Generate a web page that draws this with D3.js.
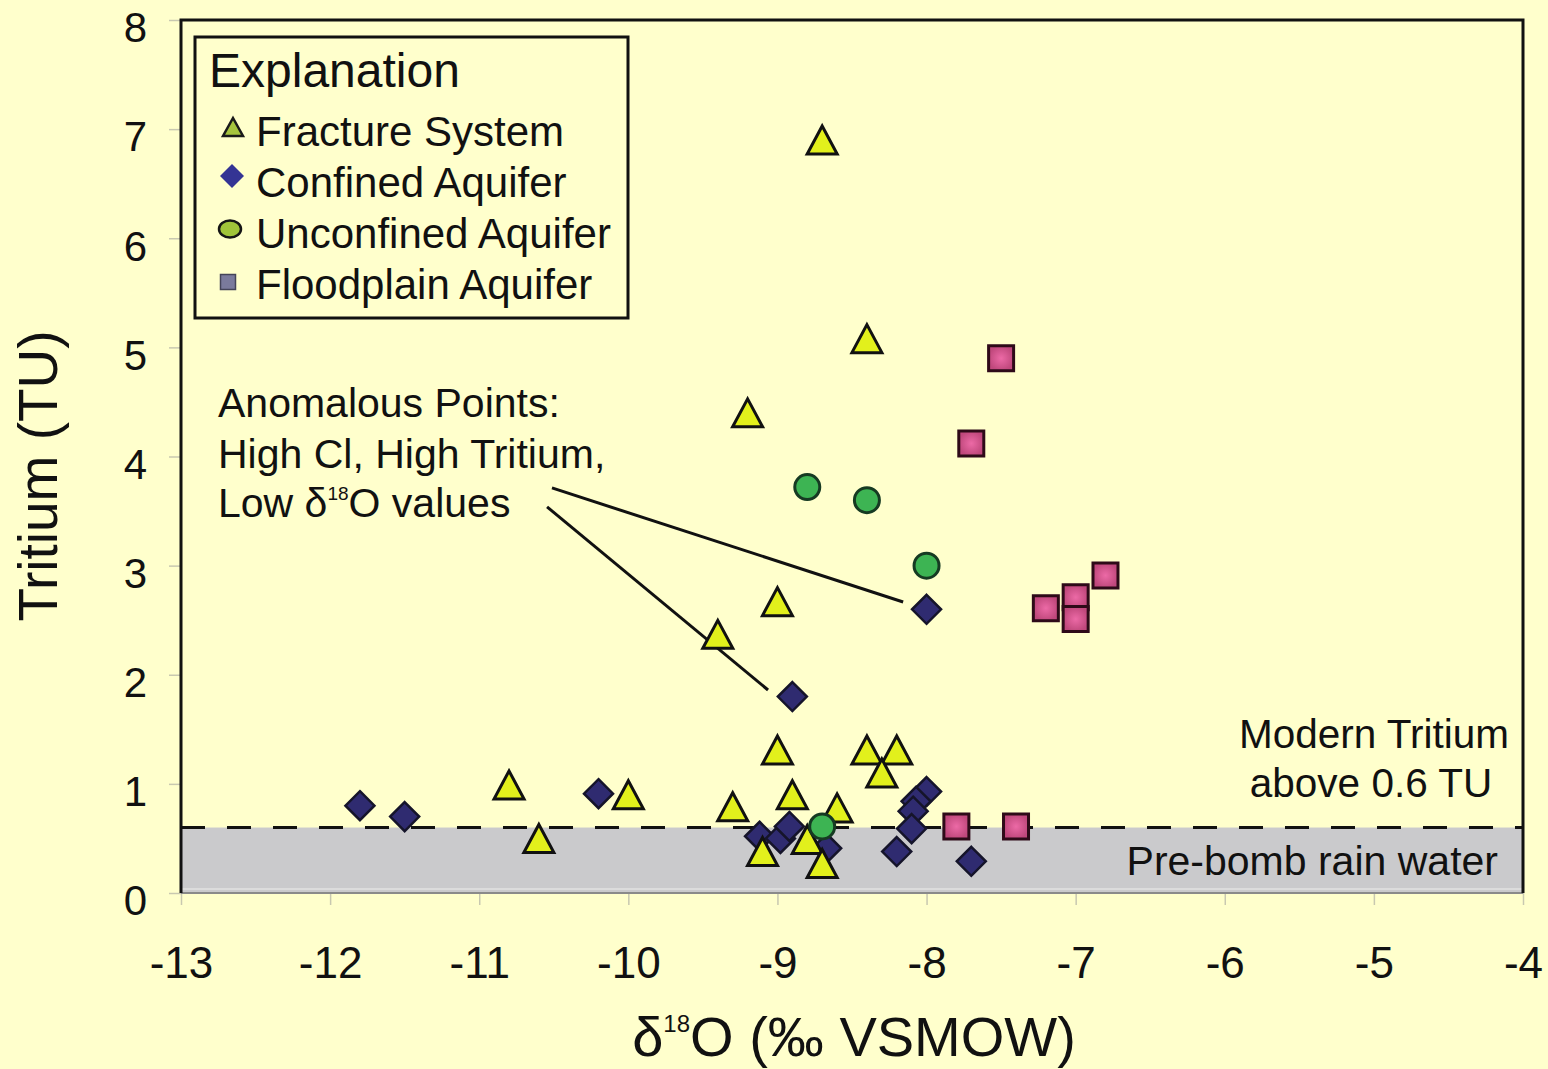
<!DOCTYPE html>
<html>
<head>
<meta charset="utf-8">
<script src="https://cdn.jsdelivr.net/npm/d3@7"></script>
<style>
  html, body { margin: 0; padding: 0; background: #ffffcc; }
  svg { display: block; }
  text { font-family: "Liberation Sans", Arial, sans-serif; fill: #111; }
</style>
</head>
<body>
<svg id="chart" width="1548" height="1069"></svg>
<script>
// δ18O (x, ‰ VSMOW) and tritium (y, TU) for each sample group
const fractureSystem = [
  [-8.7, 6.9], [-8.4, 5.08], [-9.2, 4.4], [-9.0, 2.67], [-9.4, 2.37],
  [-9.0, 1.31], [-8.4, 1.31], [-8.2, 1.31], [-8.3, 1.1], [-8.9, 0.9],
  [-9.3, 0.79], [-8.6, 0.78], [-8.8, 0.49], [-9.1, 0.38], [-8.7, 0.27],
  [-10.8, 0.99], [-10.6, 0.5], [-10.0, 0.9]
];
const confinedAquifer = [
  [-11.8, 0.8], [-11.5, 0.7], [-10.2, 0.91], [-8.0, 2.6], [-8.9, 1.8],
  [-9.12, 0.52], [-8.98, 0.5], [-8.92, 0.61], [-8.67, 0.41],
  [-8.0, 0.93], [-8.07, 0.84], [-8.09, 0.75], [-8.1, 0.59], [-8.2, 0.38], [-7.7, 0.29]
];
const unconfinedAquifer = [
  [-8.8, 3.72], [-8.4, 3.6], [-8.0, 3.0], [-8.7, 0.61]
];
const floodplainAquifer = [
  [-7.5, 4.9], [-7.7, 4.12], [-6.8, 2.91], [-7.2, 2.61],
  [-7.0, 2.71], [-7.0, 2.51], [-7.8, 0.61], [-7.4, 0.61]
];

const xTicks = [-13, -12, -11, -10, -9, -8, -7, -6, -5, -4];
const yTicks = [0, 1, 2, 3, 4, 5, 6, 7, 8];
const modernThreshold = 0.6;

const legendLabels = ["Fracture System", "Confined Aquifer", "Unconfined Aquifer", "Floodplain Aquifer"];

// leader lines from the note to the two anomalous confined-aquifer samples
const leaderLines = [
  [[-10.512, 3.712], [-8.157, 2.667]],
  [[-10.545, 3.538], [-9.063, 1.86]]
];

const svg = d3.select("#chart");
const plot = { left: 181, right: 1523, top: 20, bottom: 893 };

const x = d3.scaleLinear().domain([-13, -4]).range([plot.left, plot.right]);
const y = d3.scaleLinear().domain([0, 8]).range([plot.bottom, plot.top]);

// plain hyphen for negative tick labels
const tickText = d => String(d);

// pre-bomb band
svg.append("rect")
  .attr("x", x(-13)).attr("y", y(modernThreshold))
  .attr("width", x(-4) - x(-13)).attr("height", y(0) - y(modernThreshold))
  .attr("fill", "#cacacc");
svg.append("line")
  .attr("x1", x(-13)).attr("x2", x(-4))
  .attr("y1", y(0) - 4).attr("y2", y(0) - 4)
  .attr("stroke", "#e2e2e2").attr("stroke-width", 1.5);

// threshold line
svg.append("line")
  .attr("x1", x(-13)).attr("x2", x(-4))
  .attr("y1", y(modernThreshold)).attr("y2", y(modernThreshold))
  .attr("stroke", "#111").attr("stroke-width", 3)
  .attr("stroke-dasharray", "24,22");

// axes
const yAxis = d3.axisLeft(y).tickValues(yTicks).tickSize(12).tickPadding(22).tickFormat(tickText);
const gy = svg.append("g").attr("transform", `translate(${plot.left},0)`).call(yAxis);
gy.select(".domain").remove();
gy.selectAll(".tick line").attr("stroke", "#c8c8b0").attr("stroke-width", 1.5);
gy.selectAll(".tick text").attr("font-size", 42).attr("fill", "#111").attr("dy", "0.52em")
  .style("font-family", "'Liberation Sans', Arial, sans-serif");

const xAxis = d3.axisBottom(x).tickValues(xTicks).tickSize(12).tickPadding(42).tickFormat(tickText);
const gx = svg.append("g").attr("transform", `translate(0,${plot.bottom})`).call(xAxis);
gx.select(".domain").remove();
gx.selectAll(".tick line").attr("stroke", "#c8c8b0").attr("stroke-width", 1.5);
gx.selectAll(".tick text").attr("font-size", 44).attr("fill", "#111")
  .style("font-family", "'Liberation Sans', Arial, sans-serif");

// plot frame
svg.append("line").attr("x1", plot.left).attr("x2", plot.right).attr("y1", plot.bottom).attr("y2", plot.bottom)
  .attr("stroke", "#8a8a8a").attr("stroke-width", 2);
svg.append("path")
  .attr("d", `M${plot.left},${plot.bottom}V${plot.top}H${plot.right}V${plot.bottom}`)
  .attr("fill", "none").attr("stroke", "#111").attr("stroke-width", 3);

// axis titles
svg.append("text")
  .attr("transform", `translate(57,476) rotate(-90)`)
  .attr("text-anchor", "middle").attr("font-size", 55)
  .text("Tritium (TU)");

const xt = svg.append("text")
  .attr("x", 854).attr("y", 1056)
  .attr("text-anchor", "middle").attr("font-size", 56);
xt.append("tspan").text("δ");
xt.append("tspan").attr("font-size", 24).attr("dy", -24).text("18");
xt.append("tspan").attr("dy", 24).text("O (‰ VSMOW)");

// marker shapes, sized in pixels and centred on the data point
const shapes = {
  triangle: (w, h) => `M0,${-h / 2}L${w / 2},${h / 2}L${-w / 2},${h / 2}Z`,
  diamond: (w, h) => `M0,${-h / 2}L${w / 2},0L0,${h / 2}L${-w / 2},0Z`,
  square: (w) => `M${-w / 2},${-w / 2}H${w / 2}V${w / 2}H${-w / 2}Z`
};

const defs = svg.append("defs");
const pg = defs.append("radialGradient").attr("id", "pinkFill");
pg.append("stop").attr("offset", "0%").attr("stop-color", "#ec6aa6");
pg.append("stop").attr("offset", "100%").attr("stop-color", "#c0487c");

// leader lines
svg.append("g").selectAll("line").data(leaderLines).join("line")
  .attr("x1", d => x(d[0][0])).attr("y1", d => y(d[0][1]))
  .attr("x2", d => x(d[1][0])).attr("y2", d => y(d[1][1]))
  .attr("stroke", "#111").attr("stroke-width", 3);

// confined aquifer: dark diamonds
svg.append("g").selectAll("path").data(confinedAquifer).join("path")
  .attr("transform", d => `translate(${x(d[0])},${y(d[1])})`)
  .attr("d", shapes.diamond(29, 29))
  .attr("fill", "#2f2b70").attr("stroke", "#15142a").attr("stroke-width", 2.5);

// fracture system: yellow triangles
svg.append("g").selectAll("path").data(fractureSystem).join("path")
  .attr("transform", d => `translate(${x(d[0])},${y(d[1])})`)
  .attr("d", shapes.triangle(30, 28))
  .attr("fill", "#e2f01c").attr("stroke", "#111").attr("stroke-width", 3)
  .attr("stroke-linejoin", "miter");

// unconfined aquifer: green circles
svg.append("g").selectAll("circle").data(unconfinedAquifer).join("circle")
  .attr("cx", d => x(d[0])).attr("cy", d => y(d[1])).attr("r", 12.5)
  .attr("fill", "#3db453").attr("stroke", "#163a22").attr("stroke-width", 3);

// floodplain aquifer: pink squares
svg.append("g").selectAll("path").data(floodplainAquifer).join("path")
  .attr("transform", d => `translate(${x(d[0])},${y(d[1])})`)
  .attr("d", shapes.square(25))
  .attr("fill", "url(#pinkFill)").attr("stroke", "#2e0a18").attr("stroke-width", 3);

// annotations
const note = svg.append("g").attr("font-size", 41);
note.append("text").attr("x", 218).attr("y", 417).text("Anomalous Points:");
note.append("text").attr("x", 218).attr("y", 468).text("High Cl, High Tritium,");
const low = note.append("text").attr("x", 218).attr("y", 517);
low.append("tspan").text("Low δ");
low.append("tspan").attr("font-size", 19).attr("dy", -17).text("18");
low.append("tspan").attr("dy", 17).text("O values");

svg.append("text").attr("x", 1374).attr("y", 748).attr("text-anchor", "middle").attr("font-size", 40.5).text("Modern Tritium");
svg.append("text").attr("x", 1371).attr("y", 797).attr("text-anchor", "middle").attr("font-size", 40.5).text("above 0.6 TU");
svg.append("text").attr("x", 1498).attr("y", 875).attr("text-anchor", "end").attr("font-size", 41).text("Pre-bomb rain water");

// legend
const legend = svg.append("g");
legend.append("rect").attr("x", 195).attr("y", 37).attr("width", 433).attr("height", 281)
  .attr("fill", "#ffffcc").attr("stroke", "#111").attr("stroke-width", 3);
legend.append("text").attr("x", 209).attr("y", 87).attr("font-size", 48).text("Explanation");

const rowBase = [146, 197, 248, 299];
legend.selectAll("text.item").data(legendLabels).join("text")
  .attr("class", "item")
  .attr("x", 256).attr("y", (d, i) => rowBase[i])
  .attr("font-size", 42).text(d => d);

legend.append("path").attr("transform", "translate(233,127)")
  .attr("d", shapes.triangle(20, 18))
  .attr("fill", "#a6c43e").attr("stroke", "#1a1a1a").attr("stroke-width", 2.5);
legend.append("path").attr("transform", "translate(232,176)")
  .attr("d", shapes.diamond(24, 24))
  .attr("fill", "#343494");
legend.append("ellipse").attr("cx", 230).attr("cy", 229).attr("rx", 11).attr("ry", 8.5)
  .attr("fill", "#a0c43a").attr("stroke", "#151515").attr("stroke-width", 2.5);
legend.append("path").attr("transform", "translate(228,282)")
  .attr("d", shapes.square(15))
  .attr("fill", "#7a7a9c").attr("stroke", "#444458").attr("stroke-width", 1.5);
</script>
</body>
</html>
